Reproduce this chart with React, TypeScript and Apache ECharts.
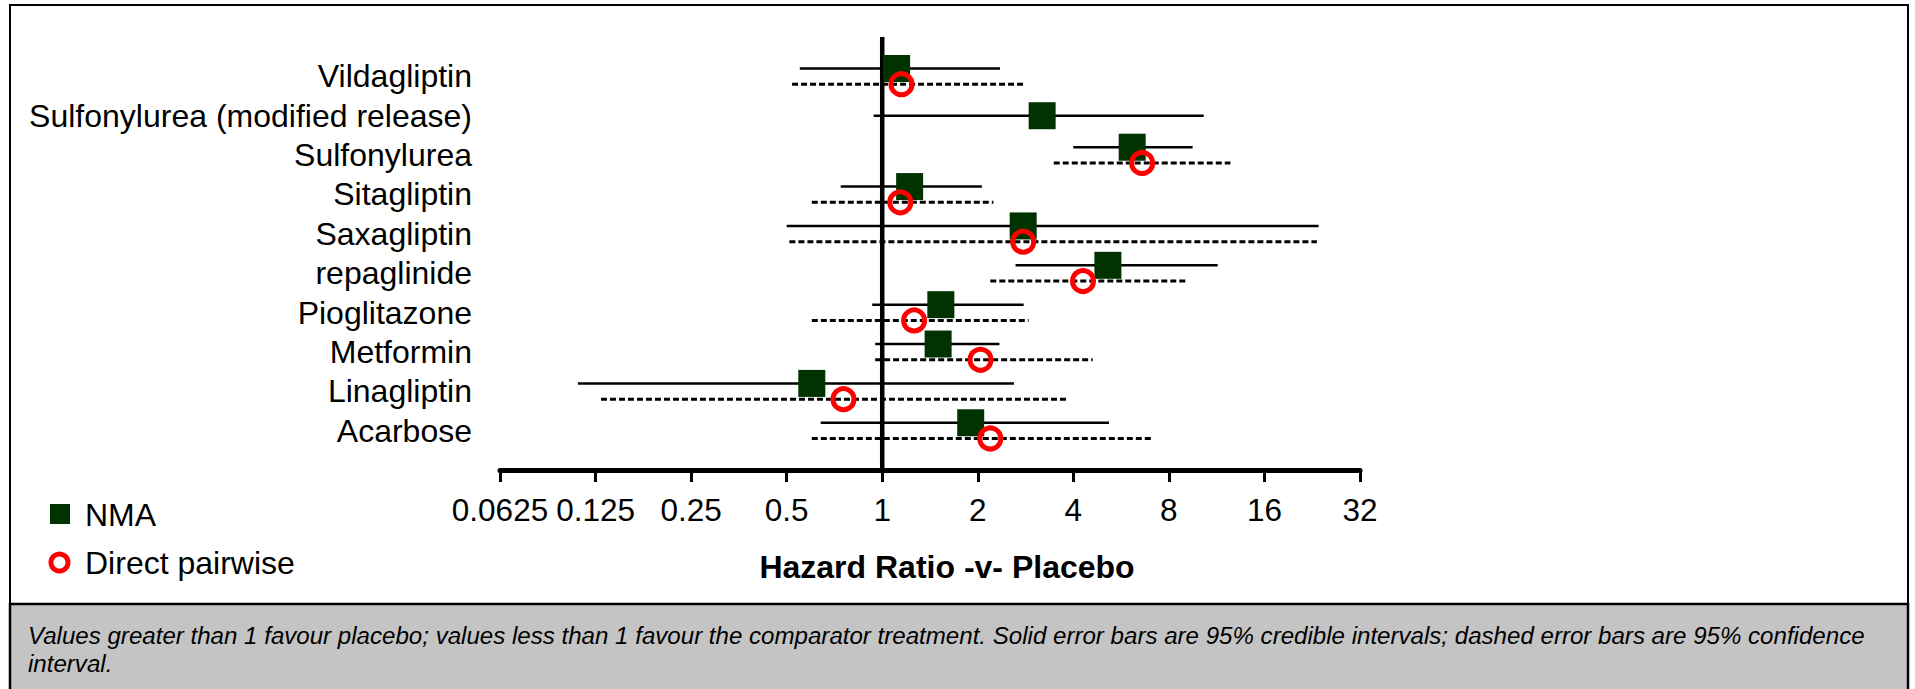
import React, { useEffect, useRef } from "react";
import * as echarts from "echarts";

// ---- data (top-to-bottom order as in the chart) ----
const categories = [
  "Vildagliptin",
  "Sulfonylurea (modified release)",
  "Sulfonylurea",
  "Sitagliptin",
  "Saxagliptin",
  "repaglinide",
  "Pioglitazone",
  "Metformin",
  "Linagliptin",
  "Acarbose",
];
// NMA (solid, 95% credible interval)
const nmaEst = [1.11, 3.19, 6.13, 1.22, 2.78, 5.14, 1.53, 1.5, 0.6, 1.9];
const nmaLow = [0.55, 0.94, 4.0, 0.74, 0.5, 2.63, 0.93, 0.95, 0.11, 0.64];
const nmaHigh = [2.35, 10.3, 9.5, 2.06, 23.7, 11.4, 2.79, 2.34, 2.6, 5.18];
// Direct pairwise (dashed, 95% confidence interval)
const directEst = [1.15, null, 6.59, 1.14, 2.78, 4.29, 1.26, 2.04, 0.755, 2.19];
const directLow = [0.52, null, 3.47, 0.6, 0.51, 2.19, 0.6, 0.95, 0.13, 0.6];
const directHigh = [2.81, null, 12.5, 2.24, 23.4, 9.08, 2.89, 4.6, 3.85, 7.07];
const tickValues = [0.0625, 0.125, 0.25, 0.5, 1, 2, 4, 8, 16, 32];

const axisTitle = "Hazard Ratio -v- Placebo";
const footnote =
  "Values greater than 1 favour placebo; values less than 1 favour the comparator treatment. Solid error bars are 95% credible intervals; dashed error bars are 95% confidence\ninterval.";

const FONT = 'Arial, "Liberation Sans", sans-serif';

export default function App() {
  const ref = useRef<HTMLDivElement>(null);

  useEffect(() => {
    if (!ref.current) return;
    const chart = echarts.init(ref.current, null, { renderer: "svg" });
    const n = categories.length;
    const rowY = (k: number) => n - 1 - k;
    const OFF = 0.2;

    const nmaPoints: any[] = [];
    const nmaBars: any[] = [];
    const dirPoints: any[] = [];
    const dirBars: any[] = [];
    categories.forEach((_, k) => {
      const hasDirect = directEst[k] != null;
      const yN = rowY(k) + (hasDirect ? OFF : 0);
      nmaPoints.push([nmaEst[k], yN]);
      nmaBars.push([nmaLow[k], nmaHigh[k], yN]);
      if (hasDirect) {
        const yD = rowY(k) - OFF;
        dirPoints.push([directEst[k], yD]);
        dirBars.push([directLow[k], directHigh[k], yD]);
      }
    });

    const barRenderer = (dashed: boolean) => (params: any, api: any) => {
      const y = api.value(2);
      const p1 = api.coord([api.value(0), y]);
      const p2 = api.coord([api.value(1), y]);
      return {
        type: "line",
        shape: { x1: p1[0], y1: p1[1], x2: p2[0], y2: p2[1] },
        style: {
          stroke: "#000",
          lineWidth: dashed ? 3 : 2.5,
          lineDash: dashed ? [6, 3] : null,
        },
      };
    };

    chart.setOption({
      animation: false,
      backgroundColor: "#ffffff",
      grid: { left: 500, top: 37, width: 860, height: 433, containLabel: false },
      xAxis: {
        type: "log",
        logBase: 2,
        min: tickValues[0],
        max: tickValues[tickValues.length - 1],
        splitNumber: tickValues.length - 1,
        axisLine: { show: true, onZero: false, lineStyle: { color: "#000", width: 5 } },
        axisTick: { show: true, length: 12, lineStyle: { color: "#000", width: 3 } },
        axisLabel: {
          margin: 24,
          color: "#000",
          fontSize: 31.5,
          fontFamily: FONT,
          formatter: (v: number) => String(parseFloat(Number(v).toPrecision(6))),
        },
        splitLine: { show: false },
      },
      yAxis: {
        type: "value",
        min: -1,
        max: n,
        interval: 1,
        axisLine: { show: false },
        axisTick: { show: false },
        splitLine: { show: false },
        axisLabel: {
          margin: 28,
          color: "#000",
          fontSize: 32,
          fontFamily: FONT,
          formatter: (v: number) => {
            const k = n - 1 - Math.round(v);
            return k >= 0 && k < n ? categories[k] : "";
          },
        },
      },
      series: [
        {
          type: "line",
          data: [
            [1, -1],
            [1, n],
          ],
          symbol: "none",
          lineStyle: { color: "#000", width: 4.5 },
          z: 2,
          silent: true,
        },
        {
          type: "custom",
          renderItem: barRenderer(false),
          data: nmaBars,
          encode: { x: [0, 1], y: 2 },
          z: 3,
        },
        {
          type: "custom",
          renderItem: barRenderer(true),
          data: dirBars,
          encode: { x: [0, 1], y: 2 },
          z: 3,
        },
        {
          name: "NMA",
          type: "scatter",
          data: nmaPoints,
          symbol: "rect",
          symbolSize: 27,
          itemStyle: { color: "#003300", opacity: 1 },
          z: 4,
        },
        {
          name: "Direct pairwise",
          type: "scatter",
          data: dirPoints,
          symbol: "circle",
          symbolSize: 21,
          itemStyle: {
            color: "rgba(0,0,0,0)",
            borderColor: "#ff0000",
            borderWidth: 5,
            opacity: 1,
          },
          z: 5,
        },
      ],
      graphic: [
        {
          type: "rect",
          z: -10,
          shape: { x: 10, y: 5, width: 1898, height: 710 },
          style: { fill: "#ffffff", stroke: "#000", lineWidth: 2 },
        },
        {
          type: "rect",
          z: -9,
          shape: { x: 10, y: 604, width: 1898, height: 110 },
          style: { fill: "#c4c4c4", stroke: "#000", lineWidth: 2.5 },
        },
        {
          type: "text",
          x: 28,
          y: 621,
          style: {
            text: footnote,
            fontSize: 24.1,
            fontStyle: "italic",
            fontFamily: FONT,
            fill: "#000",
            lineHeight: 28,
          },
        },
        {
          type: "text",
          x: 947,
          y: 567,
          style: {
            text: axisTitle,
            fontSize: 32,
            fontWeight: "bold",
            fontFamily: FONT,
            fill: "#000",
            align: "center",
            verticalAlign: "middle",
          },
        },
        {
          type: "rect",
          shape: { x: 50, y: 504, width: 20, height: 20 },
          style: { fill: "#003300" },
        },
        {
          type: "text",
          x: 85,
          y: 515,
          style: {
            text: "NMA",
            fontSize: 32,
            fontFamily: FONT,
            fill: "#000",
            verticalAlign: "middle",
          },
        },
        {
          type: "circle",
          shape: { cx: 59.5, cy: 562.5, r: 8.5 },
          style: { fill: "none", stroke: "#ff0000", lineWidth: 5 },
        },
        {
          type: "text",
          x: 85,
          y: 563,
          style: {
            text: "Direct pairwise",
            fontSize: 32,
            fontFamily: FONT,
            fill: "#000",
            verticalAlign: "middle",
          },
        },
      ],
    });

    return () => chart.dispose();
  }, []);

  return (
    <div
      ref={ref}
      style={{ position: "absolute", left: 0, top: 0, width: 1915, height: 689 }}
    />
  );
}
